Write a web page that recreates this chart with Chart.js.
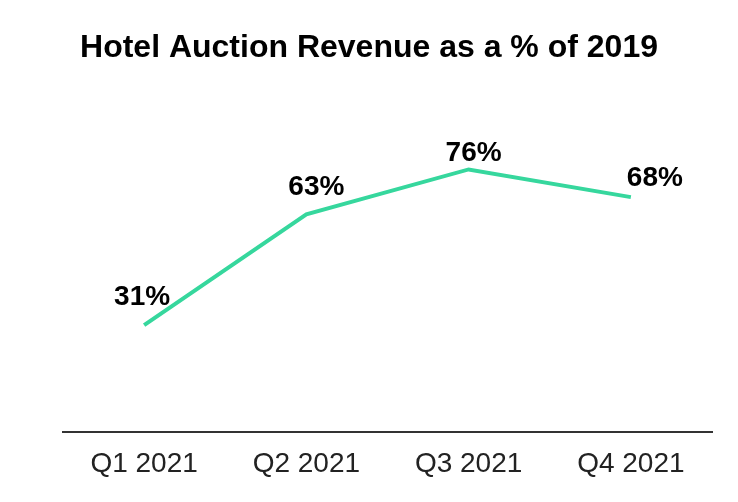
<!DOCTYPE html>
<html>
<head>
<meta charset="utf-8">
<script src="https://cdn.jsdelivr.net/npm/chart.js@4/dist/chart.umd.min.js"></script>
<style>
  html, body { margin: 0; padding: 0; background: #ffffff; }
  #wrap { width: 738px; height: 502px; position: relative; }
</style>
</head>
<body>
<div id="wrap"><canvas id="c"></canvas></div>
<script>
const titleText = "Hotel Auction Revenue as a % of 2019";
const categories = ["Q1 2021", "Q2 2021", "Q3 2021", "Q4 2021"];
const revenuePct = [31, 63, 76, 68];

const labelPlugin = {
  id: 'pointLabels',
  afterDatasetsDraw(chart, args, opts) {
    const ctx = chart.ctx;
    const meta = chart.getDatasetMeta(0);
    ctx.save();
    ctx.font = 'bold 28px "Liberation Sans", Arial, sans-serif';
    ctx.fillStyle = '#000000';
    ctx.textAlign = 'center';
    ctx.textBaseline = 'alphabetic';
    meta.data.forEach((pt, i) => {
      const off = opts.offsets[i] || [0, -20];
      const v = chart.data.datasets[0].data[i];
      ctx.fillText(v + '%', pt.x + off[0], pt.y + off[1]);
    });
    ctx.restore();
  }
};

new Chart(document.getElementById('c'), {
  type: 'line',
  data: {
    labels: categories,
    datasets: [{
      data: revenuePct,
      borderColor: '#36D79D',
      borderWidth: 4,
      pointRadius: 0,
      pointHoverRadius: 0,
      tension: 0,
      fill: false
    }]
  },
  options: {
    responsive: true,
    maintainAspectRatio: false,
    animation: false,
    layout: { padding: { left: 26, right: 26, top: 0, bottom: 6 } },
    plugins: {
      legend: { display: false },
      tooltip: { enabled: false },
      title: {
        display: true,
        text: titleText,
        color: '#000000',
        font: { family: '"Liberation Sans", Arial, sans-serif', size: 32, weight: 'bold' },
        padding: { top: 29, bottom: 19 }
      },
      pointLabels: { offsets: [[-2, -20], [10, -19], [5, -8], [24, -11]] }
    },
    scales: {
      x: {
        offset: true,
        grid: { display: false, drawTicks: false },
        border: { display: true, color: '#333333', width: 2 },
        ticks: {
          color: '#222222',
          padding: 15,
          font: { family: '"Liberation Sans", Arial, sans-serif', size: 28 }
        }
      },
      y: {
        display: true,
        min: 0,
        max: 100,
        grid: { display: false, drawTicks: false },
        border: { display: false },
        ticks: { display: false },
        afterFit(scale) { scale.width = 37; }
      }
    }
  },
  plugins: [labelPlugin]
});
</script>
</body>
</html>
